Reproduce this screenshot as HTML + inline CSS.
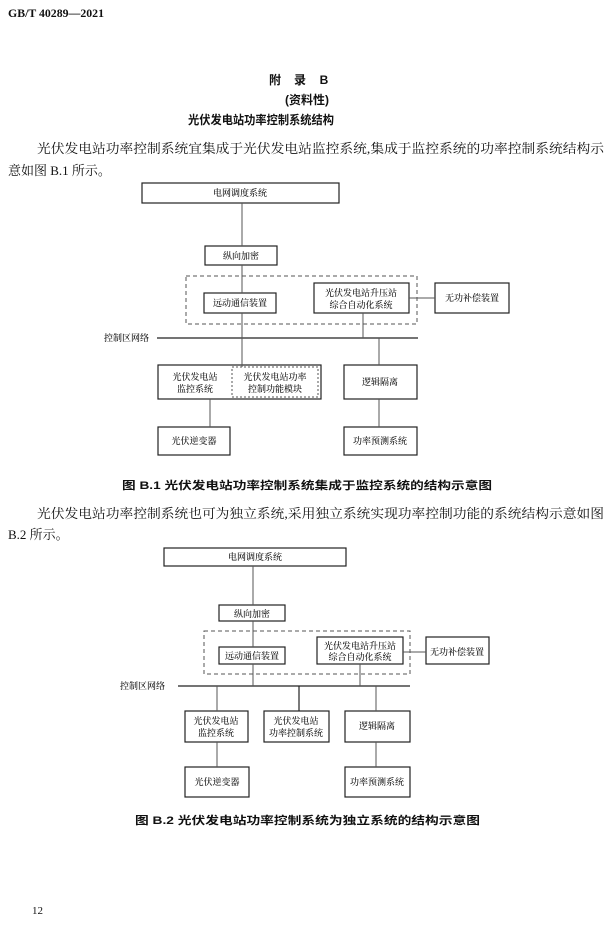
<!DOCTYPE html>
<html><head><meta charset="utf-8"><style>
html,body{margin:0;padding:0;background:#fff;}
svg{display:block;}
text{font-family:"Liberation Serif","Noto Serif CJK SC","Noto Sans CJK SC",serif;fill:#111;}
.d{font-size:9px;font-weight:500;}
.b{font-weight:bold;font-family:"Liberation Sans","Noto Sans CJK SC",sans-serif;}
</style></head><body>
<svg width="614" height="927" viewBox="0 0 614 927" xmlns="http://www.w3.org/2000/svg">
<text x="8" y="17" font-weight="bold" font-size="12" textLength="96" lengthAdjust="spacingAndGlyphs">GB/T 40289—2021</text>
<text x="275" y="84" class="b" font-size="12" text-anchor="middle">附</text>
<text x="300" y="84" class="b" font-size="12" text-anchor="middle">录</text>
<text x="324" y="84" class="b" font-size="12" text-anchor="middle">B</text>
<text x="307" y="104" class="b" font-size="12" text-anchor="middle">(资料性)</text>
<text x="188" y="124" class="b" font-size="12" textLength="146" lengthAdjust="spacingAndGlyphs">光伏发电站功率控制系统结构</text>
<text x="37" y="153" font-size="13" textLength="567" lengthAdjust="spacingAndGlyphs">光伏发电站功率控制系统宜集成于光伏发电站监控系统,集成于监控系统的功率控制系统结构示</text>
<text x="8" y="175" font-size="13">意如图 B.1 所示。</text>

<g stroke="#222" fill="none" stroke-width="1.2">
<rect x="142" y="183" width="197" height="20"/>
<rect x="205" y="246" width="72" height="19"/>
<rect x="204" y="293" width="72" height="20"/>
<rect x="314" y="283" width="95" height="30"/>
<rect x="435" y="283" width="74" height="30"/>
<rect x="158" y="365" width="163" height="34"/>
<rect x="344" y="365" width="73" height="34"/>
<rect x="158" y="427" width="72" height="28"/>
<rect x="344" y="427" width="73" height="28"/>
<line x1="157" y1="338" x2="418" y2="338"/>
</g>
<g stroke="#555" fill="none" stroke-width="1">
<rect x="186" y="276" width="231" height="48" stroke-dasharray="4,3"/>
<rect x="232" y="367" width="86" height="30" stroke-dasharray="2,2"/>
<line x1="242" y1="203" x2="242" y2="246"/>
<line x1="242" y1="265" x2="242" y2="293"/>
<line x1="242" y1="313" x2="242" y2="367"/>
<line x1="409" y1="298" x2="435" y2="298"/>
<line x1="363" y1="313" x2="363" y2="338"/>
<line x1="379" y1="338" x2="379" y2="365"/>
<line x1="210" y1="399" x2="210" y2="427"/>
<line x1="379" y1="399" x2="379" y2="427"/>
</g>
<g class="d" text-anchor="middle">
<text x="240" y="196">电网调度系统</text>
<text x="241" y="259">纵向加密</text>
<text x="240" y="306">远动通信装置</text>
<text x="361" y="296">光伏发电站升压站</text>
<text x="361" y="308">综合自动化系统</text>
<text x="472" y="301">无功补偿装置</text>
<text x="195" y="380">光伏发电站</text>
<text x="195" y="392">监控系统</text>
<text x="275" y="380">光伏发电站功率</text>
<text x="275" y="392">控制功能模块</text>
<text x="380" y="385">逻辑隔离</text>
<text x="194" y="444">光伏逆变器</text>
<text x="380" y="444">功率预测系统</text>
</g>
<text x="104" y="341" class="d">控制区网络</text>
<text x="122" y="489" class="b" font-size="11" textLength="370" lengthAdjust="spacingAndGlyphs">图 B.1   光伏发电站功率控制系统集成于监控系统的结构示意图</text>

<text x="37" y="518" font-size="13" textLength="567" lengthAdjust="spacingAndGlyphs">光伏发电站功率控制系统也可为独立系统,采用独立系统实现功率控制功能的系统结构示意如图</text>
<text x="8" y="539" font-size="13">B.2 所示。</text>

<g stroke="#222" fill="none" stroke-width="1.2">
<rect x="164" y="548" width="182" height="18"/>
<rect x="219" y="605" width="66" height="16"/>
<rect x="219" y="647" width="66" height="17"/>
<rect x="317" y="637" width="86" height="27"/>
<rect x="426" y="637" width="63" height="27"/>
<rect x="185" y="711" width="63" height="31"/>
<rect x="264" y="711" width="65" height="31"/>
<rect x="345" y="711" width="65" height="31"/>
<rect x="185" y="767" width="64" height="30"/>
<rect x="345" y="767" width="65" height="30"/>
<line x1="178" y1="686" x2="410" y2="686"/>
<line x1="299" y1="686" x2="299" y2="711"/>
</g>
<g stroke="#555" fill="none" stroke-width="1">
<rect x="204" y="631" width="206" height="43" stroke-dasharray="4,3"/>
<line x1="253" y1="566" x2="253" y2="605"/>
<line x1="253" y1="621" x2="253" y2="647"/>
<line x1="253" y1="664" x2="253" y2="686"/>
<line x1="403" y1="652" x2="426" y2="652"/>
<line x1="360" y1="664" x2="360" y2="686"/>
<line x1="217" y1="686" x2="217" y2="711"/>
<line x1="376" y1="686" x2="376" y2="711"/>
<line x1="217" y1="742" x2="217" y2="767"/>
<line x1="376" y1="742" x2="376" y2="767"/>
</g>
<g class="d" text-anchor="middle">
<text x="255" y="560">电网调度系统</text>
<text x="252" y="617">纵向加密</text>
<text x="252" y="659">远动通信装置</text>
<text x="360" y="649">光伏发电站升压站</text>
<text x="360" y="660">综合自动化系统</text>
<text x="457" y="655">无功补偿装置</text>
<text x="216" y="724">光伏发电站</text>
<text x="216" y="736">监控系统</text>
<text x="296" y="724">光伏发电站</text>
<text x="296" y="736">功率控制系统</text>
<text x="377" y="729">逻辑隔离</text>
<text x="217" y="785">光伏逆变器</text>
<text x="377" y="785">功率预测系统</text>
</g>
<text x="120" y="689" class="d">控制区网络</text>
<text x="135" y="824" class="b" font-size="11" textLength="345" lengthAdjust="spacingAndGlyphs">图 B.2   光伏发电站功率控制系统为独立系统的结构示意图</text>

<text x="32" y="914" font-size="11">12</text>
</svg>
</body></html>
